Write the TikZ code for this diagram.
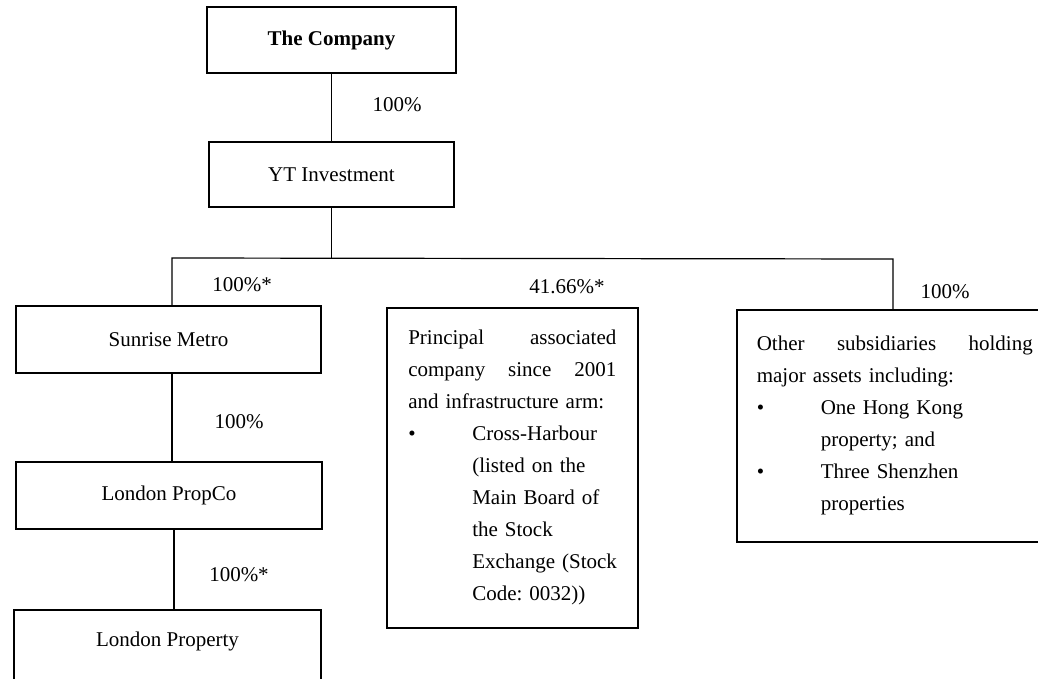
\documentclass[tikz,border=0pt]{standalone}
\usepackage{fontspec}
\setmainfont{Liberation Serif}
\usepackage{tikz}
\frenchspacing

\tikzset{
	box/.style = {draw, line width=0.8pt, inner sep=0pt, align=center},
	tallbox/.style = {draw, line width=0.8pt, inner xsep=10.75pt, inner ysep=0pt, align=left, anchor=north west},
	link/.style = {line width=0.6pt},
	pct/.style = {inner sep=0pt}
}
\newcommand{\itembullet}[1]{\mbox{\makebox[32pt][l]{\textbullet}#1}}
\newcommand{\itemgap}[1]{\mbox{\hspace*{32pt}#1}}

\begin{document}
\begin{tikzpicture}[x=0.5pt, y=-0.5pt, font=\fontsize{10.5}{16}\selectfont\frenchspacing]
	\useasboundingbox (0,0) rectangle (1038,679);
	%top
	\node [box, minimum width=124.5pt, minimum height=33pt] (comp) at (331.5,40) {\textbf{The Company}};
	\node [box, minimum width=122.5pt, minimum height=32.5pt] (yt) at (331.5,174.5) {YT Investment};
	
	%left column
	\node [box, minimum width=152.5pt, minimum height=33.5pt] (sun) at (168.5,339.5) {Sunrise Metro};
	\node [box, minimum width=153pt, minimum height=33.5pt] (propco) at (169,495.5) {London PropCo};
	\node [box, minimum width=153.5pt, minimum height=40pt, text depth=11pt, anchor=north] (lprop) at (167.5,609) {London Property};
	
	%associate
	\node [tallbox, text width=104pt, minimum height=160pt] (princ) at (386,307) {%
		\mbox{}Principal\hfill associated\\
		\mbox{}company\hfill since\hfill 2001\\
		\mbox{and infrastructure arm:}\\
		\itembullet{Cross-Harbour}\\
		\itemgap{(listed on the}\\
		\itemgap{Main Board of}\\
		\itemgap{the Stock}\\
		\itemgap{Exchange (Stock}\\
		\itemgap{Code: 0032))}};
	
	%others
	\node [tallbox, inner xsep=10pt, text width=138pt, minimum height=116pt] (other) at (736,309) {%
		\mbox{}Other\hfill subsidiaries\hfill holding\\
		\mbox{major assets including:}\\
		\itembullet{One Hong Kong}\\
		\itemgap{property; and}\\
		\itembullet{Three Shenzhen}\\
		\itemgap{properties}};
	
	%bus
	\coordinate (busL) at (172,258);
	\coordinate (busR) at (893,259);
	
	\draw [link] (comp) -- (yt);
	\draw [link] (yt) -- (yt |- busL);
	\draw [link] (busL |- sun.north) -- (busL) -- (busR) -- (busR |- other.north);
	\draw [link] (princ.north -| 513,0) -- (princ.north -| 513,0 |- busL);
	\draw [link] (busL |- sun.south) -- (busL |- propco.north);
	\draw [link] ([xshift=1pt]busL |- propco.south) -- ([xshift=1pt]busL |- lprop.north);
	
	%labels
	\node [pct] (p1) at (397,105) {100\%};
	\node [pct] (p2) at (242,285) {100\%*};
	\node [pct] (p3) at (567,287) {41.66\%*};
	\node [pct] (p4) at (945,292) {100\%};
	\node [pct] (p5) at (239,422) {100\%};
	\node [pct] (p6) at (239,575) {100\%*};
\end{tikzpicture}
\end{document}
